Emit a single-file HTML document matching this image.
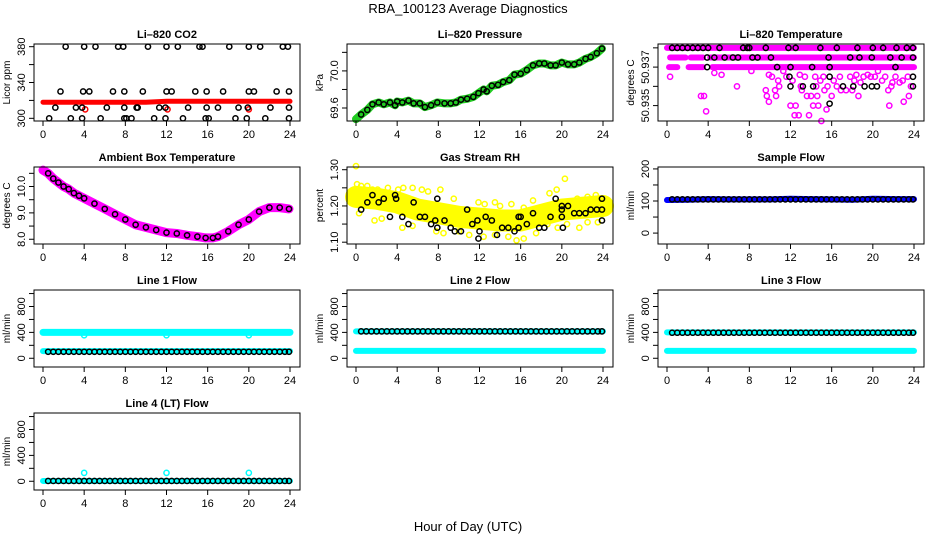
<!DOCTYPE html>
<html><head><meta charset="utf-8"><style>
html,body{margin:0;padding:0;background:#fff}
svg{display:block;font-family:"Liberation Sans",sans-serif}
</style></head><body>
<svg id="c" width="936" height="540" viewBox="0 0 936 540" xmlns="http://www.w3.org/2000/svg">
<text x="468" y="13" text-anchor="middle" font-size="13">RBA_100123  Average Diagnostics</text>
<text x="468" y="531" text-anchor="middle" font-size="13">Hour of Day (UTC)</text>
</svg>
<script>
// ---- data ----
const halfHours=[0.5,1,1.5,2,2.5,3,3.5,4,4.5,5,5.5,6,6.5,7,7.5,8,8.5,9,9.5,10,10.5,11,11.5,12,12.5,13,13.5,14,14.5,15,15.5,16,16.5,17,17.5,18,18.5,19,19.5,20,20.5,21,21.5,22,22.5,23,23.5,23.9];
const bandHours=[0,2,4,6,8,10,12,14,16,18,20,22,24];
// CO2
const co2RedBand=[318,318,318,318,318,318,319,319,319,319,319,319,319];
const co2Hours=[2.2,4,5.1,7.3,7.8,10.2,12,13.1,15.2,15.5,18.1,20,21.1,23.3,23.8,1.7,3.9,4.5,6.8,7.9,9.7,12,12.5,14.8,15.9,17.5,20,20.5,22.7,23.9,1.2,3.2,3.8,6.2,7.9,9.1,9.2,11.3,11.9,14.1,15.9,17,19,19.9,22.1,23.9,0.6,2.7,3.8,5.6,7.9,8.1,8.6,10.8,11.9,13.6,15.8,16.1,18.7,19.8,21.6,23.9];
const co2Vals=[380,380,380,380,380,380,380,380,380,380,380,380,380,380,380,330,330,330,330,330,330,330,330,330,330,330,330,330,330,330,312,312,312,312,312,312,312,312,312,312,312,312,312,312,312,312,300,300,300,300,300,300,300,300,300,300,300,300,300,300,300,300];
const co2RedOutHours=[4.1,12.1,20];
const co2RedOutVals=[310,310,310];
// Pressure
const presHours=[0,0.5,1.1,1.6,2.2,2.7,3.3,3.8,4,4.5,5.1,5.6,6.2,6.7,7.3,7.9,8.6,9.2,9.7,10.2,10.8,11.4,11.9,12.4,12.7,13.2,13.8,14.3,14.9,15.4,16,16.6,17.2,17.8,18.3,18.9,19.4,20,20.6,21.2,21.7,22.3,22.8,23.4,23.9];
const presVals=[69.48,69.53,69.58,69.64,69.66,69.64,69.66,69.63,69.67,69.66,69.68,69.65,69.65,69.61,69.63,69.66,69.65,69.65,69.66,69.69,69.70,69.72,69.76,69.80,69.78,69.84,69.85,69.88,69.90,69.96,69.97,70.01,70.06,70.08,70.08,70.06,70.06,70.09,70.07,70.07,70.09,70.13,70.15,70.19,70.24];
// Li-820 temperature
const tBandLevels=[50.9380,50.9375,50.9375,50.9375,50.9370,50.9370,50.9370];
const tBandStart=[0,0.3,2.3,4.2,0.2,2.1,4.4];
const tBandEnd=[24,1.8,3.5,24,1.0,3.5,24];
const tBlackHours=[0.5,1,1.5,2,2.5,3,3.5,4,5.1,7.4,7.8,8,9.6,11.8,12.5,14.9,16.5,18.5,20,21,22.3,23.3,23.9,3.9,4.6,5.6,6.4,6.9,8.3,8.8,10.1,15.7,17.8,18.7,19.9,21.7,22.8,23.9,3.9,10.7,12,14.1,15.8,22.2,11.9,15.8,23.9,12,13.2,14.2,17.1,18.1,19.2,19.9,20.4,23.9,15.8];
const tBlackVals=[50.938,50.938,50.938,50.938,50.938,50.938,50.938,50.938,50.938,50.938,50.938,50.938,50.938,50.938,50.938,50.938,50.938,50.938,50.938,50.938,50.938,50.938,50.938,50.9375,50.9375,50.9375,50.9375,50.9375,50.9375,50.9375,50.9375,50.9375,50.9375,50.9375,50.9375,50.9375,50.9375,50.9375,50.937,50.937,50.937,50.937,50.937,50.937,50.9365,50.9365,50.9365,50.936,50.936,50.936,50.936,50.936,50.936,50.936,50.936,50.936,50.9351];
const tMagHours=[0.3,3.3,3.6,3.8,6.8,9.6,9.7,9.9,10.5,10.6,10.9,12,12.5,12.4,12.8,13.1,13.6,13.8,14,14.2,14.6,14.7,15,15.5,15.3,16,16.5,16.9,17.4,18,18.6,19.8,20.5,21.5,21.6,21.8,23,23.5,23.7,4.6,5.3,8.2,9.9,11.3,12.9,16.2,18.8,20.9,22.6,10.2,10.8,11.6,12.2,13.4,14.4,14.9,15.2,17.8,18.2,19.1,19.5,20.2,21.2,22.2,22.9,23.4,13,14.5,15.6,16.8,18.4,21.9];
const tMagVals=[50.9365,50.9355,50.9355,50.9347,50.936,50.9358,50.9355,50.9352,50.9358,50.9355,50.936,50.935,50.935,50.9345,50.9345,50.9358,50.9355,50.9345,50.9355,50.935,50.9355,50.935,50.9342,50.9348,50.9358,50.9355,50.936,50.9358,50.9358,50.9358,50.9355,50.9365,50.9368,50.9358,50.935,50.936,50.9352,50.9355,50.936,50.9367,50.9366,50.9368,50.9366,50.9368,50.9366,50.9363,50.9362,50.9363,50.9362,50.9365,50.9363,50.9365,50.9363,50.9365,50.9365,50.9363,50.9365,50.9365,50.9363,50.9365,50.9366,50.9365,50.9365,50.9365,50.9363,50.9365,50.936,50.936,50.936,50.9365,50.9366,50.9362];
// Ambient box temperature
const ambHours=[0,0.5,1,1.5,2,2.5,3,3.5,4,5,6,7,8,9,10,11,12,13,14,15,15.8,16.5,17,18,19,20,21,22,23,23.9];
const ambVals=[10.62,10.5,10.3,10.15,10.0,9.9,9.75,9.65,9.55,9.35,9.15,8.95,8.75,8.55,8.45,8.35,8.25,8.22,8.15,8.1,8.05,8.05,8.1,8.3,8.55,8.75,9.05,9.2,9.2,9.15];
// Gas stream RH
const rhBand=[1.225,1.22,1.21,1.19,1.18,1.17,1.165,1.16,1.16,1.175,1.19,1.195,1.2];
const rhYelHours=[0,0.1,0.5,1.1,1.6,2.1,3.1,4.1,4.6,5.5,6.4,7,8.2,9.5,11.9,12.5,13.5,14,15.1,16.3,17.2,18.8,19.5,20.3,21.5,22.5,23.3,0.3,1.8,2.5,4.5,5.5,7.8,8.5,10,11,12.4,13.5,14.8,15.6,16.3,17.5,18.6,19.6,20.5,21.7,22.5,23.5];
const rhYelVals=[1.31,1.26,1.255,1.255,1.245,1.245,1.25,1.245,1.25,1.25,1.245,1.24,1.245,1.22,1.21,1.205,1.21,1.2,1.205,1.195,1.215,1.235,1.245,1.275,1.22,1.225,1.23,1.18,1.16,1.165,1.14,1.145,1.13,1.125,1.13,1.12,1.115,1.12,1.115,1.105,1.11,1.125,1.15,1.14,1.15,1.14,1.155,1.155];
const rhBlkHours=[0.5,1.1,1.6,2.2,2.7,3.3,3.8,3.9,4.5,5.1,5.6,6.2,6.7,7.3,7.7,7.9,7.9,8.6,9.2,9.6,10.2,10.8,11.3,11.8,11.9,12,12.6,13.2,13.7,14.2,14.8,15.4,15.8,16,15.8,16.6,17.2,17.8,18.3,18.9,19.4,20,20,20,20.1,20.6,21.2,21.7,22.3,22.8,23.4,23.9,23.9,23.9];
const rhBlkVals=[1.19,1.21,1.23,1.21,1.22,1.17,1.23,1.22,1.17,1.15,1.21,1.17,1.17,1.15,1.16,1.14,1.22,1.16,1.14,1.13,1.13,1.19,1.15,1.16,1.11,1.13,1.17,1.16,1.12,1.14,1.14,1.13,1.17,1.17,1.14,1.15,1.18,1.14,1.14,1.17,1.22,1.20,1.19,1.17,1.14,1.20,1.18,1.18,1.18,1.19,1.19,1.22,1.19,1.16];
// Flows
const sampleBand=[103,104,106,105,105,105,107,106,105,104,107,106,106];
const sampleVal=105;
const line1Upper=400, line1Lower=110, line1Black=100;
const line2Upper=415, line2Lower=115, line2Black=415;
const line3Upper=400, line3Lower=115, line3Black=395;
const line4Base=5, line4Black=5;
const spikeHours=[4,12,20];
const line1SpikeVals=[355,355,355];
const line4SpikeVals=[130,130,130];

// ---- drawing ----
const svg=document.getElementById('c');
const NS='http://www.w3.org/2000/svg';
function mk(tag,attrs,parent){const e=document.createElementNS(NS,tag);for(const k in attrs)e.setAttribute(k,attrs[k]);(parent||svg).appendChild(e);return e;}
const colL=[34,347,658], rowT=[44,167,290,413], W=266, H=77;
function makePanel(col,row,title,ylab,ylim,yticks,ylabels,name){
  const L=colL[col],T=rowT[row];
  const g=mk('g',{});
  
  
  const xs=t=>L+9+t/24*(W-19);
  const ys=v=>T+H-(v-ylim[0])/(ylim[1]-ylim[0])*H;
  const pg=mk('g',{},g);
  
  
  const box=mk('rect',{x:L,y:T,width:W,height:H,fill:'none',stroke:'#000','stroke-width':1},g);
  
  
  const tt=mk('text',{x:L+W/2,y:T-6,'text-anchor':'middle','font-size':11,'font-weight':'bold'},g);
  tt.textContent=title;
  
  
  [0,4,8,12,16,20,24].forEach(t=>{
    const x=xs(t);
    mk('line',{x1:x,x2:x,y1:T+H,y2:T+H+5,stroke:'#000'},g);
    const lb=mk('text',{x:x,y:T+H+17,'text-anchor':'middle','font-size':11},g);
    lb.textContent=t;
    
    
  });
  yticks.forEach(v=>{
    const y=ys(v);
    mk('line',{x1:L,x2:L-5,y1:y,y2:y,stroke:'#000'},g);
  });
  ylabels.forEach(s=>{
    const y=ys(parseFloat(s));
    const lb=mk('text',{x:0,y:0,'text-anchor':'middle','font-size':11,transform:`translate(${L-9},${y}) rotate(-90)`},g);
    lb.textContent=s;
    
    
  });
  const yl=mk('text',{x:0,y:0,'text-anchor':'middle','font-size':10,transform:`translate(${L-24},${T+H/2}) rotate(-90)`},g);
  yl.textContent=ylab;
  
  
  return {g:pg,xs,ys};
}
function band(p,hours,vals,color,w,name){
  const pts=hours.map((t,i)=>p.xs(t)+','+p.ys(vals[i])).join(' ');
  const e=mk('polyline',{points:pts,fill:'none',stroke:color,'stroke-width':w,'stroke-linejoin':'round','stroke-linecap':'round'},p.g);
  
  
}
function pts(p,hours,vals,color,name,r){
  hours.forEach((t,i)=>{
    const c=mk('circle',{cx:p.xs(t),cy:p.ys(vals[i]),r:r||2.6,fill:'none',stroke:color,'stroke-width':1.5},p.g);
    
    
  });
}
function seg(p,t0,t1,v,color,w,name){
  const e=mk('line',{x1:p.xs(t0),x2:p.xs(t1),y1:p.ys(v),y2:p.ys(v),stroke:color,'stroke-width':w,'stroke-linecap':'round'},p.g);
  
  
}
const flowTicks=[0,200,400,600,800,1000], flowLabels=['0','400','800'];
// CO2
let p=makePanel(0,0,'Li\u2013820 CO2','Licor ppm',[297,383],[300,320,340,360,380],['300','340','380'],'co2');
band(p,bandHours,co2RedBand,'#ff0000',5,'co2-red-band');
pts(p,co2RedOutHours,co2RedOutVals,'#ff0000','co2-red-point');
pts(p,co2Hours,co2Vals,'#000','co2-point');
// Pressure
p=makePanel(1,0,'Li\u2013820 Pressure','kPa',[69.46,70.29],[69.6,69.8,70.0,70.2],['69.6','70.0'],'pressure');
band(p,presHours,presVals,'#22cc22',8,'pressure-green-band');
pts(p,presHours.slice(1),presVals.slice(1),'#000','pressure-point');
// Li-820 temperature
p=makePanel(2,0,'Li\u2013820 Temperature','degrees C',[50.9342,50.9382],[50.935,50.936,50.937,50.938],['50.935','50.937'],'li820-temp');
tBandLevels.forEach((v,i)=>seg(p,tBandStart[i],tBandEnd[i],v,'#ff00ff',6,'li820-temp-magenta-band'));
pts(p,tMagHours,tMagVals,'#ff00ff','li820-temp-magenta-point');
pts(p,tBlackHours,tBlackVals,'#000','li820-temp-point');
// Ambient
p=makePanel(0,1,'Ambient Box Temperature','degrees C',[7.82,10.74],[8,8.5,9,9.5,10,10.5],['8.0','9.0','10.0'],'ambient-temp');
band(p,ambHours,ambVals,'#ff00ff',9,'ambient-magenta-band');
pts(p,ambHours.slice(1),ambVals.slice(1),'#000','ambient-point');
// RH
p=makePanel(1,1,'Gas Stream RH','percent',[1.095,1.3075],[1.1,1.15,1.2,1.25,1.3],['1.10','1.20','1.30'],'rh');
band(p,bandHours,rhBand,'#ffff00',22,'rh-yellow-band');
pts(p,rhYelHours,rhYelVals,'#ffff00','rh-yellow-point');
pts(p,rhBlkHours,rhBlkVals,'#000','rh-point');
// Sample flow
p=makePanel(2,1,'Sample Flow','ml/min',[-34,206],[0,50,100,150,200],['0','100','200'],'sample-flow');
band(p,bandHours,sampleBand,'#0000ff',6,'sample-blue-band');
pts(p,halfHours,halfHours.map(()=>sampleVal),'#000','sample-point');
// Line 1
p=makePanel(0,2,'Line 1 Flow','ml/min',[-135,1055],flowTicks,flowLabels,'line1-flow');
seg(p,0,24,line1Upper,'#00ffff',7,'line1-upper-band');
seg(p,0,24,line1Lower,'#00ffff',6,'line1-lower-band');
pts(p,spikeHours,line1SpikeVals,'#00ffff','line1-spike');
pts(p,halfHours,halfHours.map(()=>line1Black),'#000','line1-point');
// Line 2
p=makePanel(1,2,'Line 2 Flow','ml/min',[-135,1055],flowTicks,flowLabels,'line2-flow');
seg(p,0,24,line2Upper,'#00ffff',6,'line2-upper-band');
seg(p,0,24,line2Lower,'#00ffff',6,'line2-lower-band');
pts(p,halfHours,halfHours.map(()=>line2Black),'#000','line2-point');
// Line 3
p=makePanel(2,2,'Line 3 Flow','ml/min',[-135,1055],flowTicks,flowLabels,'line3-flow');
seg(p,0,24,line3Upper,'#00ffff',6,'line3-upper-band');
seg(p,0,24,line3Lower,'#00ffff',6,'line3-lower-band');
pts(p,halfHours,halfHours.map(()=>line3Black),'#000','line3-point');
// Line 4
p=makePanel(0,3,'Line 4 (LT) Flow','ml/min',[-135,1055],flowTicks,flowLabels,'line4-flow');
seg(p,0,24,line4Base,'#00ffff',6,'line4-band');
pts(p,spikeHours,line4SpikeVals,'#00ffff','line4-spike');
pts(p,halfHours,halfHours.map(()=>line4Black),'#000','line4-point');
</script>
</body></html>
